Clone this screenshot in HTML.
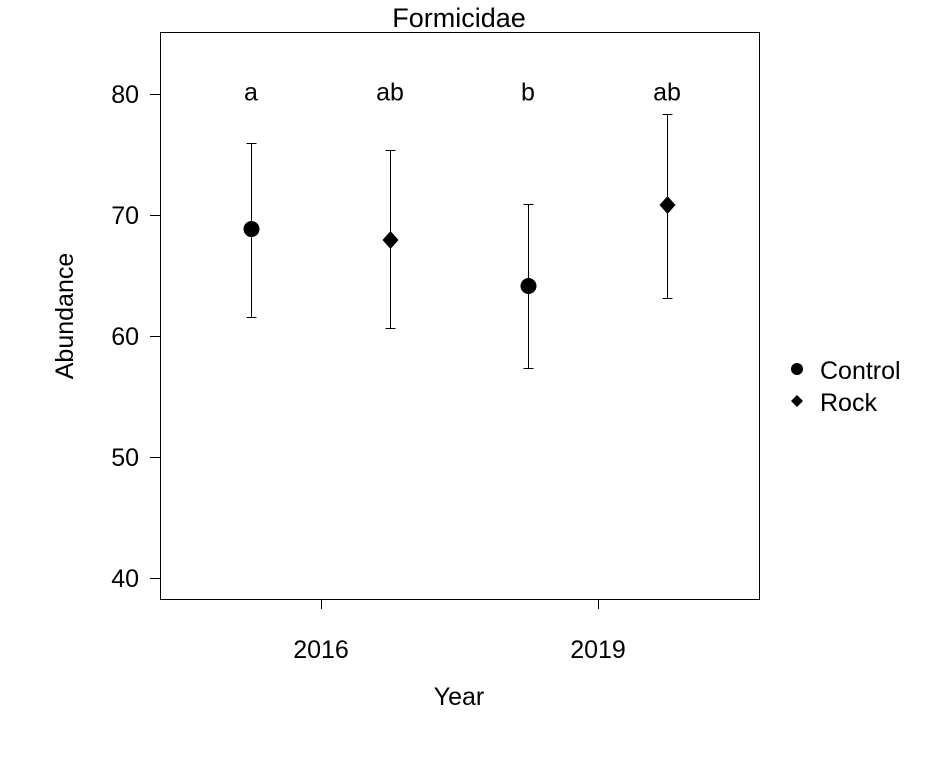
<!DOCTYPE html>
<html><head><meta charset="utf-8"><style>
body{margin:0;background:#fff}
svg text{font-family:"Liberation Sans",Arial,sans-serif;fill:#000}
line,rect,.eb{shape-rendering:crispEdges}
</style></head><body>
<svg id="chart" width="952" height="760" xmlns="http://www.w3.org/2000/svg">
<text x="459" y="27" font-size="27" text-anchor="middle">Formicidae</text>
<rect x="160.5" y="32.5" width="599" height="567" fill="none" stroke="#000" stroke-width="1"/>
<g id="yaxis"></g>
<g id="xaxis"></g>
<g id="marks"></g>
<text transform="translate(73,316) rotate(-90)" font-size="25" text-anchor="middle">Abundance</text>
<text x="459" y="705" font-size="25" text-anchor="middle">Year</text>
<g>
<circle cx="797" cy="369" r="6" fill="#000"/>
<text x="820" y="379" font-size="25">Control</text>
<path d="M797,395 L803,401 L797,407 L791,401 Z" fill="#000"/>
<text x="820" y="411" font-size="25">Rock</text>
</g>
</svg>
<script>
const years = ["2016", "2019"];
const groups = ["Control", "Rock"];
const means = [68.84, 67.93, 64.13, 70.83];
const lowers = [61.57, 60.66, 57.36, 63.14];
const uppers = [75.95, 75.37, 70.9, 78.35];
const letters = ["a", "ab", "b", "ab"];
const yTicks = [40, 50, 60, 70, 80];
const letterY = 80.2;

const NS = "http://www.w3.org/2000/svg";
function y(v){ return 94 + (80 - v) * 12.1; }
function xYear(i){ return 321 + i * 277; }
function xPoint(yi, gi){ return xYear(yi) + (gi === 0 ? -70 : 69); }
function mk(tag, attrs, parent){
  const e = document.createElementNS(NS, tag);
  for (const k in attrs) e.setAttribute(k, attrs[k]);
  parent.appendChild(e);
  return e;
}
const ya = document.getElementById("yaxis");
yTicks.forEach(t => {
  const l = mk("line", {x1:150, x2:160, y1:Math.round(y(t))+0.5, y2:Math.round(y(t))+0.5, stroke:"#000"}, ya);
  
  
  const tx = mk("text", {x:139, y:y(t)+9, "font-size":25, "text-anchor":"end"}, ya);
  tx.textContent = t;
  
  
});
const xa = document.getElementById("xaxis");
years.forEach((yr, i) => {
  const l = mk("line", {x1:xYear(i)+0.5, x2:xYear(i)+0.5, y1:599, y2:609, stroke:"#000"}, xa);
  
  
  const tx = mk("text", {x:xYear(i), y:658, "font-size":25, "text-anchor":"middle"}, xa);
  tx.textContent = yr;
  
  
});
const mg = document.getElementById("marks");
means.forEach((m, k) => {
  const yi = Math.floor(k / 2), gi = k % 2;
  const cx = xPoint(yi, gi);
  const cxl = cx + 0.5;
  const lo = Math.round(y(lowers[k])) + 0.5, hi = Math.round(y(uppers[k])) + 0.5;
  const eb = mk("path", {class:"eb", d:`M${cxl},${lo}V${hi}M${cxl-5},${lo}H${cxl+5}M${cxl-5},${hi}H${cxl+5}`, stroke:"#000", fill:"none"}, mg);
  
  
  let p;
  if (gi === 0) p = mk("circle", {cx:cxl, cy:y(m), r:8, fill:"#000"}, mg);
  else { const cy = y(m); p = mk("path", {d:`M${cxl},${cy-9}L${cxl+8},${cy}L${cxl},${cy+9}L${cxl-8},${cy}Z`, fill:"#000"}, mg); }
  
  
  const t = mk("text", {x:cx, y:y(letterY)+9, "font-size":25, "text-anchor":"middle"}, mg);
  t.textContent = letters[k];
  
  
});
</script>
</body></html>
